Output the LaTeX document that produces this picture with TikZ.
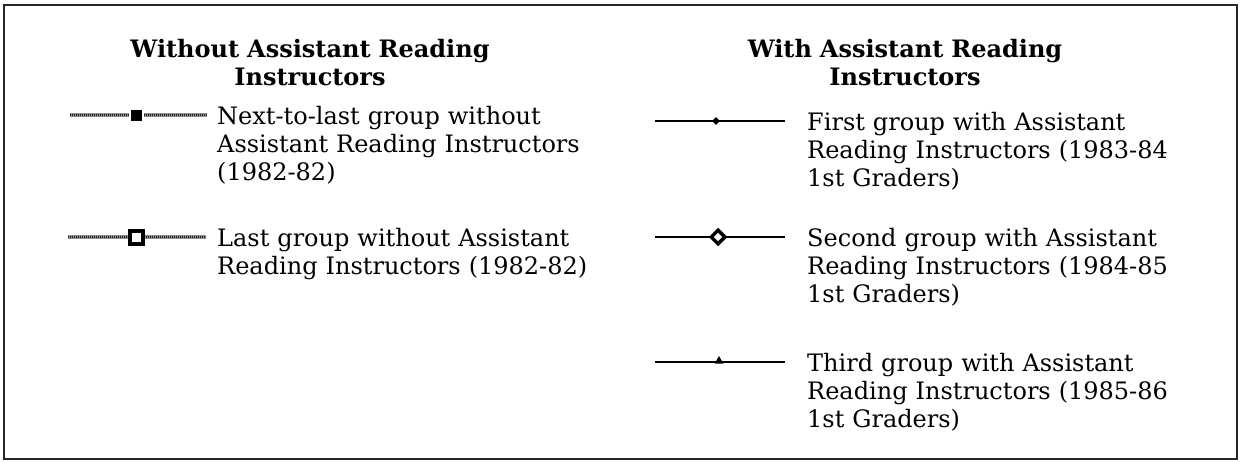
\documentclass[tikz,border=0pt]{standalone}
\usepackage{fontspec}
\setmainfont{DejaVu Serif}
\usetikzlibrary{shapes.geometric}
\begin{document}
\begin{tikzpicture}[x=1pt,y=-1pt,
  txt/.style={anchor=base west, inner sep=0pt, text width=440pt, align=left,
    font=\fontsize{24}{28}\selectfont},
  head/.style={anchor=base, inner sep=0pt, text width=440pt, align=center,
    font=\fontsize{24}{28}\selectfont\bfseries},
  hatchln/.style={line width=4pt, draw=black!45,
    postaction={draw=black!85, line width=2.6pt, dash pattern=on 0.9pt off 1.1pt}},
  thinln/.style={line width=1.6pt, draw=black},
  thickln/.style={line width=2.8pt, draw=black},
  sqfill/.style={rectangle, fill=black, draw=white, line width=2pt, minimum size=13pt, inner sep=0pt},
  sqopen/.style={rectangle, draw=black, line width=4pt, fill=white, minimum size=13pt, inner sep=0pt},
  dmfill/.style={diamond, fill=black, minimum size=8pt, inner sep=0pt},
  dmopen/.style={diamond, draw=black, line width=3.5pt, fill=white, minimum size=15pt, inner sep=0pt},
  trfill/.style={regular polygon, regular polygon sides=3, fill=black, minimum size=10pt, inner sep=0pt},
]
\useasboundingbox (0,0) rectangle (1241,461);
\draw[line width=2.5pt, black!85] (4,5) rectangle (1237,459);

% headings
\node[head] (hl) at (310,57) {Without Assistant Reading\\Instructors};
\node[head] (hr) at (905,57) {With Assistant Reading\\Instructors};

% left entry 1
\coordinate (l1a) at (70,115); \coordinate (l1b) at (207,115);
\draw[hatchln] (l1a) -- (l1b);
\node[sqfill] (l1m) at (136,115) {};
\node[txt] (l1t) at (217,124) {Next-to-last group without\\Assistant Reading Instructors\\(1982-82)};

% left entry 2
\coordinate (l2a) at (68,237); \coordinate (l2b) at (206,237);
\draw[hatchln] (l2a) -- (l2b);
\node[sqopen] (l2m) at (136,237) {};
\node[txt] (l2t) at (217,246) {Last group without Assistant\\Reading Instructors (1982-82)};

% right entry 1
\coordinate (r1a) at (655,121); \coordinate (r1b) at (785,121);
\draw[thinln] (r1a) -- (r1b);
\node[dmfill] (r1m) at (716,121) {};
\node[txt] (r1t) at (807,130) {First group with Assistant\\Reading Instructors (1983-84\\1st Graders)};

% right entry 2
\coordinate (r2a) at (655,237); \coordinate (r2b) at (785,237);
\draw[thickln] (r2a) -- (r2b);
\node[dmopen] (r2m) at (718,237) {};
\node[txt] (r2t) at (807,246) {Second group with Assistant\\Reading Instructors (1984-85\\1st Graders)};

% right entry 3
\coordinate (r3a) at (655,362); \coordinate (r3b) at (785,362);
\draw[thickln] (r3a) -- (r3b);
\node[trfill] (r3m) at (719,361) {};
\node[txt] (r3t) at (807,371) {Third group with Assistant\\Reading Instructors (1985-86\\1st Graders)};
\end{tikzpicture}
\end{document}
